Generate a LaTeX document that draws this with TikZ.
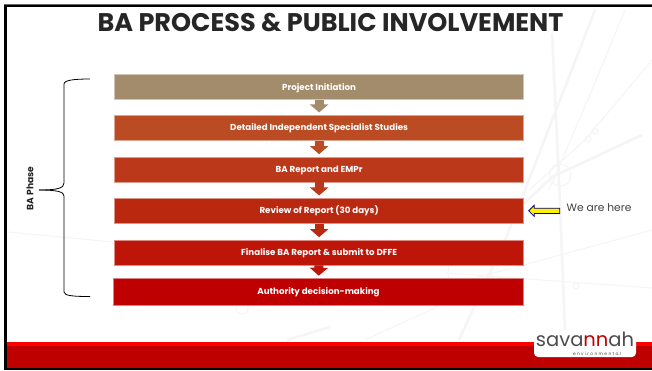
\documentclass[tikz,border=0pt]{standalone}
\usepackage{fontspec}
\setmainfont{Poppins}
\usetikzlibrary{arrows.meta,shapes.arrows}
\definecolor{stepA}{RGB}{163,140,107}
\definecolor{stepB}{RGB}{187,75,35}
\definecolor{stepC}{RGB}{188,56,26}
\definecolor{stepD}{RGB}{187,40,16}
\definecolor{stepE}{RGB}{189,21,8}
\definecolor{stepF}{RGB}{190,0,0}
\definecolor{bgline}{RGB}{245,245,245}
\tikzset{
	stepbox/.style={minimum width=408.8pt,minimum height=25pt,inner sep=0pt,text=white,text height=7.5pt,text depth=1.5pt,font=\fontsize{8.7}{10}\selectfont\bfseries,line width=.7pt},
	flow/.style={-{Triangle[width=18pt,length=8pt]},line width=9pt,shorten >=2.5pt},
	bgthick/.style={bgline,line width=2.5pt},
	bgthin/.style={bgline,line width=1pt}
}
\begin{document}
\begin{tikzpicture}[x=1pt,y=-1pt]
	\useasboundingbox (0,0) rectangle (652,370);
	\fill[white] (0,0) rectangle (652,370);
	
	\draw[bgthick] (595,10) -- (525,190) -- (505,240) -- (459,340);
	\draw[bgthick] (552,33) -- (559,180) -- (565,330);
	\draw[bgthin] (625,10) -- (589,97) -- (549,190);
	\draw[bgthin] (652,60) -- (585,140) -- (529,190);
	\draw[bgthick] (642,135) -- (552,177) -- (512,215);
	\draw[bgthin] (652,230) -- (479,277);
	\draw[bgthin] (445,273) -- (652,288);
	\draw[bgthin] (365,340) -- (502,277);
	\draw[bgthin] (8,232) -- (113,242);
	\draw[bgthick] (287,340) -- (330,327);
	\draw[bgthin] (560,175) circle (11);
	\draw[bgthin] (588,139) circle (3);
	\draw[bgthin] (595,131) circle (3);
	\draw[bgthin] (470,273) circle (22);
	\draw[bgthin] (576,286) circle (3);
	\draw[bgthin] (242,308) circle (6);
	
	\fill[red] (7,342) rectangle (652,346);
	\fill[stepF] (7,346) rectangle (652,368);
	\fill[black] (4,368) rectangle (652,370);
	\fill[black!60] (4,4.3) rectangle (652,5);
	\fill[black] (4,5) rectangle (652,7);
	\fill[black] (4,5) rectangle (7,370);
	
	\node[font=\fontsize{25.5}{30}\selectfont\bfseries,text=black!85,inner sep=0pt] (title)at(330.5,22.5) {BA PROCESS \& PUBLIC INVOLVEMENT};
	
	\node[stepbox,fill=stepA,draw=stepA!50!white] (init)at(319.1,87) {Project Initiation};
	\node[stepbox,fill=stepB,draw=stepB!50!white] (studies)at(319.1,127.8) {Detailed Independent Specialist Studies};
	\node[stepbox,fill=stepC,draw=stepC!50!white] (report)at(319.1,169.5) {BA Report and EMPr};
	\node[stepbox,fill=stepD,draw=stepD!50!white] (review)at(319.1,210.8) {Review of Report (30 days)};
	\node[stepbox,fill=stepE,draw=stepE!50!white] (final)at(319.1,252.5) {Finalise BA Report \& submit to DFFE};
	\node[stepbox,fill=stepF,draw=stepF!50!white,minimum width=410pt,minimum height=26.5pt] (decision)at(318.5,291.8) {Authority decision-making};
	
	\draw[flow,stepA] (init) -- (studies);
	\draw[flow,stepB] (studies) -- (report);
	\draw[flow,stepC] (report) -- (review);
	\draw[flow,stepD] (review) -- (final);
	\draw[flow,stepE] (final) -- (decision);
	
	\coordinate (bracetop)at(90,79);
	\coordinate (bracetip)at(39,190);
	\coordinate (bracebot)at(90,296.5);
	\draw[line width=.8pt] (bracetop) .. controls (75,79) and (64,80) .. (64,84) -- (64,183) .. controls (64,188) and (58,190) .. (bracetip);
	\draw[line width=.8pt] (bracebot) .. controls (75,296.5) and (64,296) .. (64,292) -- (64,196) .. controls (64,192) and (58,190) .. (bracetip);
	\node[rotate=90,font=\fontsize{9.2}{10}\selectfont\bfseries,text=black!85,inner sep=0pt] (phase)at(30,188.5) {BA Phase};
	
	\node[single arrow,shape border rotate=180,draw=blue!50!black,fill=yellow,line width=.8pt,minimum width=11pt,minimum height=31pt,single arrow head extend=1.5pt,single arrow head indent=0pt,inner sep=1pt] (here)at(545.5,210.8) {};
	\node[anchor=west,font=\fontsize{10.7}{12}\selectfont,text=black!75,inner sep=0pt] (herelabel)at(566.5,208) {We are here};
	
	\fill[white,rounded corners=4pt] (534,333) rectangle (636,357);
	\node[anchor=base,font=\fontsize{19.5}{20}\selectfont,text=black!70,inner sep=0pt] (logo)at(585,346.5) {sava\textcolor{stepF}{nn}ah};
	\node[anchor=base,font=\fontsize{4.4}{5}\selectfont\addfontfeature{LetterSpace=30},text=black!70,inner sep=0pt] (logosub)at(597,355.5) {environmental};
\end{tikzpicture}
\end{document}
